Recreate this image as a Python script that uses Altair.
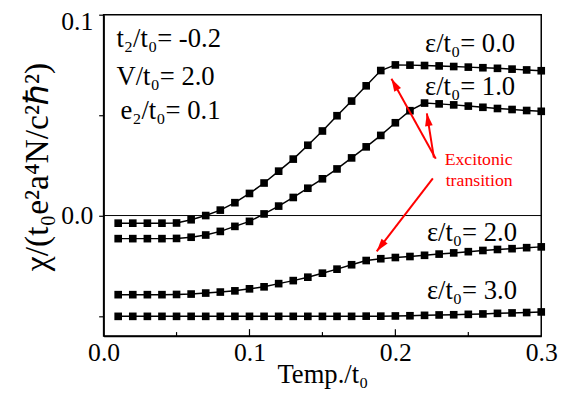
import altair as alt
import pandas as pd

FONT = "Liberation Serif"

# ---------------- data ----------------
temp = [0.01, 0.02, 0.03, 0.04, 0.05, 0.06, 0.07, 0.08, 0.09, 0.10,
        0.11, 0.12, 0.13, 0.14, 0.15, 0.16, 0.17, 0.18, 0.19, 0.20,
        0.21, 0.22, 0.23, 0.24, 0.25, 0.26, 0.27, 0.28, 0.29, 0.30]

chi_eps0 = [-0.0038, -0.0038, -0.0038, -0.0038, -0.0037,
            -0.0021, 0.0000, 0.0027, 0.0064, 0.0110, 0.0162, 0.0221, 0.0281,
            0.0350, 0.0421, 0.0497, 0.0570, 0.0646, 0.0722,
            0.0750, 0.0749, 0.0747, 0.0745, 0.0742, 0.0739, 0.0736, 0.0733,
            0.0729, 0.0725, 0.0721]

chi_eps1 = [-0.0115, -0.0115, -0.0115, -0.0115, -0.0114,
            -0.0108, -0.0097, -0.0079, -0.0054, -0.0029, 0.0008, 0.0047, 0.0090,
            0.0136, 0.0183, 0.0232, 0.0287, 0.0342, 0.0399, 0.0462, 0.0522,
            0.0560, 0.0556, 0.0551, 0.0545, 0.0539, 0.0533, 0.0528, 0.0523, 0.0519]

chi_eps2 = [-0.0394, -0.0394, -0.0394, -0.0394, -0.0393,
            -0.0391, -0.0386, -0.0381, -0.0375, -0.0365, -0.0355, -0.0339, -0.0324,
            -0.0307, -0.0287, -0.0267, -0.0245, -0.0224, -0.0215, -0.0209, -0.0204,
            -0.0198, -0.0192, -0.0186, -0.0180, -0.0174, -0.0169, -0.0165, -0.0160,
            -0.0156]

chi_eps3 = [-0.0502] * 17 + [-0.0501, -0.0501, -0.0500, -0.0499, -0.0497, -0.0495,
                             -0.0494, -0.0492, -0.0490, -0.0487, -0.0485, -0.0483,
                             -0.0480]

series_names = ["ε/t₀= 0.0", "ε/t₀= 1.0", "ε/t₀= 2.0", "ε/t₀= 3.0"]

x_label_values = [0.0, 0.1, 0.2, 0.3]
y_tick_values = [-0.05, 0.0, 0.05, 0.1]
x_major_ticks = [0.1, 0.2]
x_minor_ticks = [0.05, 0.15, 0.25]

# annotation texts (black)
note_text = ["t₂/t₀= -0.2", "V/t₀= 2.0", "e₂/t₀= 0.1",
             "ε/t₀= 0.0", "ε/t₀= 1.0", "ε/t₀= 2.0", "ε/t₀= 3.0"]
note_x = [0.0088, 0.0088, 0.0115, 0.2203, 0.2203, 0.2216, 0.2216]
note_y = [0.0838, 0.0651, 0.0480, 0.0813, 0.0602, -0.0129, -0.0414]

# red annotation
red_text = ["Excitonic", "transition"]
red_x = [0.2338, 0.2345]
red_y = [0.0254, 0.0146]

arrow_x0 = [0.2277, 0.2264, 0.2257]
arrow_y0 = [0.0283, 0.0288, 0.0185]
arrow_x1 = [0.1973, 0.2216, 0.1872]
arrow_y1 = [0.0681, 0.0509, -0.0178]
arrow_angle = [331, 351, 218]

# ---------------- frames ----------------
rows = []
for name, vals in zip(series_names, [chi_eps0, chi_eps1, chi_eps2, chi_eps3]):
    for t, v in zip(temp, vals):
        rows.append({"T": t, "chi": v, "series": name})
df = pd.DataFrame(rows)

notes = pd.DataFrame({"T": note_x, "chi": note_y, "label": note_text})
reds = pd.DataFrame({"T": red_x, "chi": red_y, "label": red_text})
arrows = pd.DataFrame({"T": arrow_x0, "chi": arrow_y0, "T2": arrow_x1,
                       "chi2": arrow_y1, "ang": arrow_angle})
heads = pd.DataFrame({"T": arrow_x1, "chi": arrow_y1, "ang": arrow_angle})
zero = pd.DataFrame({"chi": [0.0]})
majt = pd.DataFrame({"T": x_major_ticks})
mint = pd.DataFrame({"T": x_minor_ticks})

W, H = 444, 326

xs = alt.Scale(domain=[0, 0.3], nice=False, zero=False)
ys = alt.Scale(domain=[-0.06, 0.1], nice=False, zero=False)

x_enc = alt.X("T:Q", scale=xs, axis=alt.Axis(
    values=x_label_values, format=".1f", ticks=False, grid=False,
    labelFlush=False, labelOverlap=False,
    labelFontSize=26, labelPadding=4, labelColor="black", labelFont=FONT,
    title="Temp./t₀", titleFontSize=27, titleFont=FONT, titleFontWeight="normal",
    titleColor="black", titlePadding=-4,
    domainColor="black", domainWidth=1.5))
y_enc = alt.Y("chi:Q", scale=ys, axis=alt.Axis(
    values=y_tick_values, grid=False, ticks=True, tickSize=5, tickColor="black",
    tickWidth=1.2, labelFlush=False, labelOverlap=False,
    labelOffset={"condition": {"test": "datum.value > 0.09", "value": 7}, "value": 0},
    labelExpr="(abs(datum.value) < 0.01 || datum.value > 0.09) ? format(datum.value, '.1f') : ''",
    labelFontSize=26, labelPadding=6, labelColor="black", labelFont=FONT,
    title="χ/(t₀e²a⁴N/c²ℏ²)", titleFontSize=34, titleFont=FONT,
    titleFontWeight="normal", titleColor="black", titlePadding=6, titleY=154,
    domainColor="black", domainWidth=1.5))

lines = alt.Chart(df).mark_line(color="black", strokeWidth=1.5).encode(
    x=x_enc, y=y_enc, detail="series:N")
points = alt.Chart(df).mark_point(shape="square", filled=True, size=60,
                                  color="black", opacity=1).encode(
    x="T:Q", y="chi:Q")
zero_rule = alt.Chart(zero).mark_rule(color="black", strokeWidth=1).encode(
    y="chi:Q")
maj_ticks = alt.Chart(majt).mark_rule(color="black", strokeWidth=1.2).encode(
    x="T:Q", y=alt.value(H), y2=alt.value(H - 7))
min_ticks = alt.Chart(mint).mark_rule(color="black", strokeWidth=1.2).encode(
    x="T:Q", y=alt.value(H), y2=alt.value(H - 4))

note_layer = alt.Chart(notes).mark_text(
    align="left", baseline="alphabetic", font=FONT, fontSize=27, color="black"
).encode(x="T:Q", y="chi:Q", text="label:N")
red_layer = alt.Chart(reds).mark_text(
    align="left", baseline="alphabetic", font=FONT, fontSize=18, color="#ff0000"
).encode(x="T:Q", y="chi:Q", text="label:N")
arrow_lines = alt.Chart(arrows).mark_rule(color="#ff0000", strokeWidth=2).encode(
    x="T:Q", y="chi:Q", x2="T2:Q", y2="chi2:Q")
arrow_heads = alt.Chart(heads).mark_point(
    shape="M0,0L-0.3,1L0.3,1Z", filled=True, size=676, color="#ff0000", opacity=1
).encode(x="T:Q", y="chi:Q", angle=alt.Angle("ang:Q", scale=None))

chart = alt.layer(
    zero_rule, lines, points, maj_ticks, min_ticks, note_layer, red_layer,
    arrow_lines, arrow_heads
).properties(
    width=W, height=H,
    padding={"left": 97, "top": 4, "right": 17, "bottom": 56},
    autosize=alt.AutoSizeParams(type="none"),
    background="white",
).configure_view(stroke="black", strokeWidth=1.5)

chart.save("out.html", embed_options={"renderer": "svg", "actions": False})
